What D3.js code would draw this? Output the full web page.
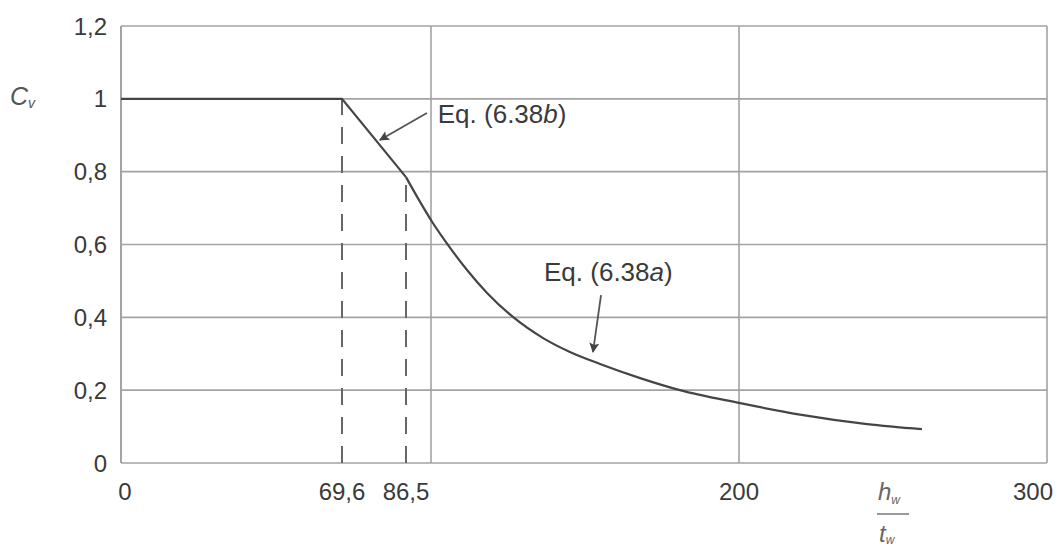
<!DOCTYPE html>
<html>
<head>
<meta charset="utf-8">
<script src="https://cdn.jsdelivr.net/npm/d3@7"></script>
<style>
  body { margin: 0; background: #fff; }
  text { font-family: "Liberation Sans", Arial, sans-serif; fill: #3a3a3a; }
</style>
</head>
<body>
<div id="chart"></div>
<script>
// x breakpoints of the figure (the original is not drawn to a uniform scale)
const xBreaks = [0, 69.6, 86.5, 100, 200, 300];
const xTickLabels = ["0", "69,6", "86,5", "200", "300"];
const xTickValues = [0, 69.6, 86.5, 200, 300];
const yTickValues = [0, 0.2, 0.4, 0.6, 0.8, 1, 1.2];
const xGridValues = [100, 200, 300];

// Cv plateau + Eq. (6.38b) straight part
const plateau = [
  { x: 0, y: 1 },
  { x: 69.6, y: 1 },
  { x: 86.5, y: 0.785 }
];
// Eq. (6.38a) curve
const curveA = [
  { x: 86.5, y: 0.785 },
  { x: 94.1, y: 0.717 },
  { x: 100.6, y: 0.659 },
  { x: 105.5, y: 0.599 },
  { x: 111.7, y: 0.530 },
  { x: 118.2, y: 0.467 },
  { x: 126.6, y: 0.401 },
  { x: 136.4, y: 0.343 },
  { x: 145.1, y: 0.305 },
  { x: 154.9, y: 0.272 },
  { x: 167.9, y: 0.233 },
  { x: 180.8, y: 0.200 },
  { x: 200, y: 0.165 },
  { x: 219.8, y: 0.133 },
  { x: 241.6, y: 0.107 },
  { x: 259.4, y: 0.093 }
];
// dashed drop lines
const dropLines = [
  { x: 69.6, y: 1 },
  { x: 86.5, y: 0.785 }
];
// annotations: label position and arrow tail -> head
const notes = [
  { text: "Eq. (6.38", it: "b", tx: 102.2, ty: 0.935, x1: 97.8, y1: 0.961, x2: 79.6, y2: 0.887 },
  { text: "Eq. (6.38", it: "a", tx: 136.7, ty: 0.50, x1: 155.2, y1: 0.461, x2: 152.6, y2: 0.305 }
];

const W = 1059, H = 548;
const margin = { top: 26, right: 12, bottom: 85, left: 121 };
const width = W - margin.left - margin.right;
const height = H - margin.top - margin.bottom;

const svg = d3.select("#chart").append("svg")
  .attr("width", W)
  .attr("height", H);

const g = svg.append("g")
  .attr("transform", "translate(" + margin.left + "," + margin.top + ")");

// piecewise x scale following the figure's spacing
const xPx = [0, 221, 285, 310, 618, width];
const x = d3.scaleLinear().domain(xBreaks).range(xPx);
const y = d3.scaleLinear().domain([0, 1.2]).range([height, 0]);

const gridColor = "#a3a3a3";

// horizontal grid
g.selectAll(".hgrid")
  .data(yTickValues)
  .enter().append("line")
  .attr("x1", 0)
  .attr("x2", width)
  .attr("y1", d => y(d))
  .attr("y2", d => y(d))
  .attr("stroke", gridColor)
  .attr("stroke-width", 1.6);

// vertical grid
g.selectAll(".vgrid")
  .data([0].concat(xGridValues))
  .enter().append("line")
  .attr("x1", d => x(d))
  .attr("x2", d => x(d))
  .attr("y1", 0)
  .attr("y2", height)
  .attr("stroke", gridColor)
  .attr("stroke-width", d => d === 0 ? 2 : 1.6);

// dashed drop lines
g.selectAll(".drop")
  .data(dropLines)
  .enter().append("line")
  .attr("x1", d => x(d.x))
  .attr("x2", d => x(d.x))
  .attr("y1", height)
  .attr("y2", d => y(d.y))
  .attr("stroke", "#666")
  .attr("stroke-width", 2)
  .attr("stroke-dasharray", "17,12");

// curve
const line = d3.line().x(d => x(d.x)).y(d => y(d.y));
g.append("path")
  .datum(plateau)
  .attr("d", line)
  .attr("fill", "none")
  .attr("stroke", "#454545")
  .attr("stroke-width", 2.2);

g.append("path")
  .datum(curveA)
  .attr("d", line.curve(d3.curveMonotoneX))
  .attr("fill", "none")
  .attr("stroke", "#454545")
  .attr("stroke-width", 2.2);

// y tick labels
g.selectAll(".ylab")
  .data(yTickValues)
  .enter().append("text")
  .attr("x", -14)
  .attr("y", d => y(d))
  .attr("dy", "0.36em")
  .attr("text-anchor", "end")
  .style("font-size", "24px")
  .text(d => d3.format(".1f")(d).replace(".0", "").replace(".", ","));

// x tick labels
g.selectAll(".xlab")
  .data(xTickValues)
  .enter().append("text")
  .attr("x", d => x(d))
  .attr("y", height + 37)
  .attr("dx", d => d === 0 ? 4 : (d === 300 ? 6 : 0))
  .attr("text-anchor", d => d === 300 ? "end" : "middle")
  .style("font-size", "24px")
  .text((d, i) => xTickLabels[i]);

// axis titles
const cv = svg.append("text")
  .attr("x", 10)
  .attr("y", 105)
  .style("font-size", "25px")
  .style("font-style", "italic")
  .style("fill", "#555")
  .text("C");
cv.append("tspan")
  .attr("dy", 3)
  .style("font-size", "14px")
  .text("v");

const fx = 877;
const xt = svg.append("g").style("fill", "#666");
xt.append("text")
  .attr("x", fx + 1)
  .attr("y", 500)
  .style("font-size", "24px")
  .style("font-style", "italic")
  .style("fill", "#666")
  .text("h")
  .append("tspan")
  .attr("dy", 4)
  .style("font-size", "12px")
  .text("w");
xt.append("line")
  .attr("x1", fx)
  .attr("x2", fx + 32)
  .attr("y1", 514)
  .attr("y2", 514)
  .attr("stroke", "#777")
  .attr("stroke-width", 1.5);
xt.append("text")
  .attr("x", fx + 2)
  .attr("y", 542)
  .style("font-size", "24px")
  .style("font-style", "italic")
  .style("fill", "#666")
  .text("t")
  .append("tspan")
  .attr("dy", 2)
  .style("font-size", "12px")
  .text("w");

// annotations
svg.append("defs").append("marker")
  .attr("id", "head")
  .attr("viewBox", "0 0 10 10")
  .attr("refX", 9)
  .attr("refY", 5)
  .attr("markerWidth", 16)
  .attr("markerHeight", 10)
  .attr("markerUnits", "userSpaceOnUse")
  .attr("orient", "auto")
  .append("path")
  .attr("d", "M0,0 L10,5 L0,10 L2,5 Z")
  .attr("fill", "#444");

notes.forEach(function(n) {
  const t = g.append("text")
    .attr("x", x(n.tx))
    .attr("y", y(n.ty))
    .style("font-size", "26px")
    .text(n.text);
  t.append("tspan").style("font-style", "italic").text(n.it);
  t.append("tspan").text(")");

  g.append("line")
    .attr("x1", x(n.x1))
    .attr("y1", y(n.y1))
    .attr("x2", x(n.x2))
    .attr("y2", y(n.y2))
    .attr("stroke", "#555")
    .attr("stroke-width", 1.8)
    .attr("marker-end", "url(#head)");
});
</script>
</body>
</html>
